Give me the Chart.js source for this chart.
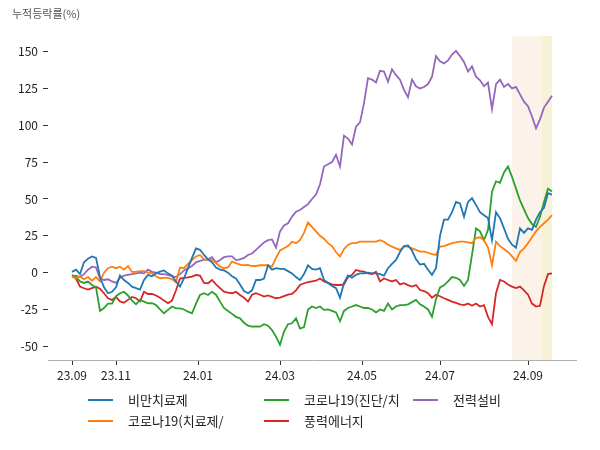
<!DOCTYPE html>
<html>
<head>
<meta charset="utf-8">
<script src="https://cdn.jsdelivr.net/npm/chart.js@4.4.1/dist/chart.umd.min.js"></script>
<style>
  body { margin: 0; background: #fff; }
  #wrap { width: 600px; height: 450px; }
</style>
</head>
<body>
<div id="wrap"><canvas id="chart" width="600" height="450"></canvas></div>
<script>
// 누적등락률 (%) - 2거래일 간격 샘플, 23.09 ~ 24.09
const seriesNames = ['비만치료제', '코로나19(치료제/', '코로나19(진단/치', '풍력에너지', '전력설비'];
const seriesColors = ['#1f77b4', '#ff7f0e', '#2ca02c', '#d62728', '#9467bd'];

const obesity = [
  0.5, 2, -1, 7, 9.5, 11, 10, -3, -10, -14,
  -13, -10, -2, -5, -7, -9.5, -10.5, -11.5, -5, -1.5,
  -2.5, -0.5, 0.7, 1.5, -0.5, -2, -6, -9.5, -3.8, 3,
  10, 16.5, 15.5, 12, 9, 7, 3.5, 2, 1.5, 0,
  -2.5, -4, -8, -12.5, -14, -12, -5, -5, -4, 5,
  2, 3, 2.5, 2.5, 1, -0.5, -3, -5, -1, 5,
  2.5, 2, 3, -5, -7, -9, -10.5, -17, -7, -2,
  -3.5, -1.5, -0.5, -0.5, 0, -0.5, -0.5, -1, -2, 3,
  6, 8.6, 14, 18, 18.5, 15, 9, 5.5, 6, 2,
  -1.5, 3, 25, 36, 36, 41, 48, 47, 38, 48,
  50.5, 46, 41, 39, 37, 22, 41, 37, 30, 23,
  19, 17, 30, 27, 30, 29, 36, 41, 44, 54,
  53
];
const covidTreat = [
  -2.7, -3.5, -2.7, -4.5, -3, -5.5, -3, -6, 0, 3,
  4, 3, 4, 2, 4.5, 0.5, 0.5, 1, 1, 0,
  -0.5, -2.5, -3.8, -3.5, -3.5, -4.5, -6.5, 3.5, 3, 6,
  8.6, 11, 12, 9, 8.6, 8.6, 6.5, 4, 3, 3.5,
  7.5, 6.5, 5.5, 5, 5.2, 4.5, 4.5, 5, 5, 5,
  4, 10, 15, 16.5, 18, 21, 20, 22, 27, 34,
  31, 28, 25, 23, 20, 18, 14, 11, 16, 18.8,
  20, 20, 21, 21, 21, 21, 21, 22, 21, 19,
  17.6, 16.5, 15.4, 17.6, 17.6, 16.5, 15.4, 14.3, 14.3, 13.5,
  12.5, 12, 17.6, 18, 19, 20, 20.5, 21, 21, 20.5,
  20, 23.5, 24, 22, 17, 5, 21, 18, 16, 14,
  11, 8, 14, 16.5, 20, 24, 28, 31, 33.5, 36,
  39
];
const covidDiag = [
  -1.6, -3, -6, -7, -6, -8.4, -10, -26, -24, -21,
  -21, -16, -14, -13, -15.5, -19, -21.5, -18.5, -19.7, -20.8,
  -20.8, -22, -25, -27.6, -25.3, -23, -24.2, -24.2, -25, -26.5,
  -27.6, -21, -15.2, -14, -15.2, -13, -15, -19.7, -24, -26,
  -28, -30, -31, -34, -36, -36.7, -36.5, -36.7, -35, -36,
  -39, -43.4, -49, -40, -35, -34.4, -31, -38, -37, -25,
  -23, -24, -23, -25.3, -25, -26, -27, -33, -26, -24,
  -23, -22, -23, -24, -24, -25, -27, -25, -26, -21,
  -25, -23, -22, -22, -21.5, -20, -18.5, -21.5, -23, -25,
  -29.9, -18, -10, -8.6, -6, -3, -3.5, -5, -9, -5,
  12, 30, 28, 22, 29, 55, 62, 61, 68, 72,
  65, 57, 49, 43, 37, 33, 31, 38, 48, 57,
  55
];
const wind = [
  -2.5, -4, -9.5, -10.6, -11.5, -10.5, -9.5, -11, -14, -17.4,
  -18.5, -16.5, -19.5, -20.5, -18.5, -16.5, -17.4, -19.5, -13, -14.5,
  -14.5, -15.5, -17, -19, -20.8, -19, -12, -4, -3.5, -3.2,
  -2.7, -1.6, -2, -7, -7.2, -5, -8, -10.5, -12.9, -13.5,
  -14, -13, -15.2, -17, -19.7, -15, -14, -15, -16.3, -15.5,
  -16.5, -17.4, -17, -16, -15, -14.5, -12, -8.4, -7.2, -6.5,
  -6, -5.5, -4, -6, -7, -8, -8.4, -8.4, -8, -3,
  -1.5, 1.8, 1, 0.7, -0.5, -1, 0.5, -6, -4, -5,
  -6, -5, -8, -7.2, -8.5, -9.5, -8.4, -11.8, -12.5, -14,
  -17, -15, -16, -17.4, -18.5, -19.7, -20.5, -21.5, -22, -21,
  -22.5, -21, -23, -22, -30, -35, -14, -5, -6, -8,
  -9.5, -10.5, -9.5, -12, -15, -21, -23, -22.5, -9, -1,
  -0.5
];
const power = [
  -2.7, -2, -3, -1, 2, 4, 3.5, -4, -5, -4.5,
  -6, -7, -3.5, -2, -1.5, -1, -0.5, 0, -0.5, 2,
  0.5, 0, -1, -1, -1.5, -2.5, -3, -1, 1.5, 3,
  4.5, 7, 8, 8.6, 9, 10.5, 7, 8.6, 10.5, 11,
  11, 8.5, 9, 10, 12, 13, 15.5, 18, 20.5, 22,
  22.5, 17, 28, 32, 33.5, 38, 41.4, 42.5, 44.5, 46.5,
  50, 53, 60, 72, 73.5, 75, 80, 72, 93, 91,
  87, 99, 102, 115, 132, 131, 129, 137, 136.5, 129.5,
  138, 134, 131, 124, 119, 131, 126.5, 125, 126, 128,
  133, 147, 143.5, 142, 144, 148, 150.5, 147, 143, 136.5,
  140, 133, 130.5, 126.5, 129, 111, 128, 131, 126, 128,
  125, 126, 121, 116, 113, 106, 98, 104, 112, 116,
  120
];
const seriesValues = [obesity, covidTreat, covidDiag, wind, power];

// 월 시작 위치 (샘플 인덱스) 와 라벨
const xTickLabels = ['23.09', '23.11', '24.01', '24.03', '24.05', '24.07', '24.09'];
const xTickAt = [0, 11, 31.5, 52, 72.5, 92, 114];
const yTicks = [-50, -25, 0, 25, 50, 75, 100, 125, 150];

// 음영 구간 (샘플 인덱스)
const bands = [
  { from: 110, to: 117.5, color: 'rgba(238,196,160,0.22)' },
  { from: 117.5, to: 120, color: 'rgba(228,216,140,0.35)' }
];

const FONT = '"Noto Sans CJK KR", "Noto Sans", sans-serif';

const bandPlugin = {
  id: 'bands',
  beforeDatasetsDraw(chart) {
    const { ctx, chartArea, scales } = chart;
    ctx.save();
    bands.forEach(b => {
      const x0 = scales.x.getPixelForValue(b.from);
      const x1 = scales.x.getPixelForValue(b.to);
      ctx.fillStyle = b.color;
      ctx.fillRect(x0, chartArea.top, x1 - x0, chartArea.bottom - chartArea.top);
    });
    ctx.restore();
  }
};

const titleLegendPlugin = {
  id: 'titleLegend',
  afterDraw(chart) {
    const ctx = chart.ctx;
    ctx.save();
    // y축 제목
    ctx.font = '11px ' + FONT;
    ctx.fillStyle = '#555';
    ctx.textBaseline = 'middle';
    ctx.textAlign = 'left';
    ctx.fillText('누적등락률(%)', 12, 14);

    // 범례 (열 우선 배치)
    const colX = [88, 264, 413];
    const rowY = [400, 421];
    ctx.font = '13px ' + FONT;
    seriesNames.forEach((name, i) => {
      const x = colX[Math.floor(i / 2)];
      const y = rowY[i % 2];
      ctx.strokeStyle = seriesColors[i];
      ctx.lineWidth = 2;
      ctx.beginPath();
      ctx.moveTo(x, y);
      ctx.lineTo(x + 25, y);
      ctx.stroke();
      ctx.fillStyle = '#222';
      ctx.fillText(name, x + 40, y);
    });
    ctx.restore();
  }
};

new Chart(document.getElementById('chart'), {
  type: 'line',
  data: {
    datasets: seriesValues.map((vals, i) => ({
      label: seriesNames[i],
      data: vals.map((v, k) => ({ x: k, y: v })),
      borderColor: seriesColors[i],
      borderWidth: 1.8,
      pointRadius: 0,
      tension: 0,
      fill: false
    }))
  },
  options: {
    responsive: false,
    animation: false,
    layout: { padding: { top: 36, right: 24, left: 0, bottom: 0 } },
    plugins: { legend: { display: false }, tooltip: { enabled: false } },
    scales: {
      x: {
        type: 'linear',
        min: -6,
        max: 126,
        afterBuildTicks: s => { s.ticks = xTickAt.map(v => ({ value: v })); },
        afterFit: s => { s.height = 90; },
        ticks: {
          callback: (v, i) => xTickLabels[i],
          autoSkip: false,
          maxRotation: 0,
          color: '#222',
          padding: 3,
          font: { family: FONT, size: 12 }
        },
        grid: { drawOnChartArea: false, tickLength: 5, tickColor: '#333' },
        border: { color: '#b0b0b0', width: 1 }
      },
      y: {
        min: -59.3,
        max: 160.6,
        afterBuildTicks: s => { s.ticks = yTicks.map(v => ({ value: v })); },
        afterFit: s => { s.width = 48; },
        ticks: {
          color: '#222',
          padding: 5,
          font: { family: FONT, size: 12 }
        },
        grid: { drawOnChartArea: false, tickLength: 5, tickColor: '#333' },
        border: { display: false }
      }
    }
  },
  plugins: [bandPlugin, titleLegendPlugin]
});
</script>
</body>
</html>
